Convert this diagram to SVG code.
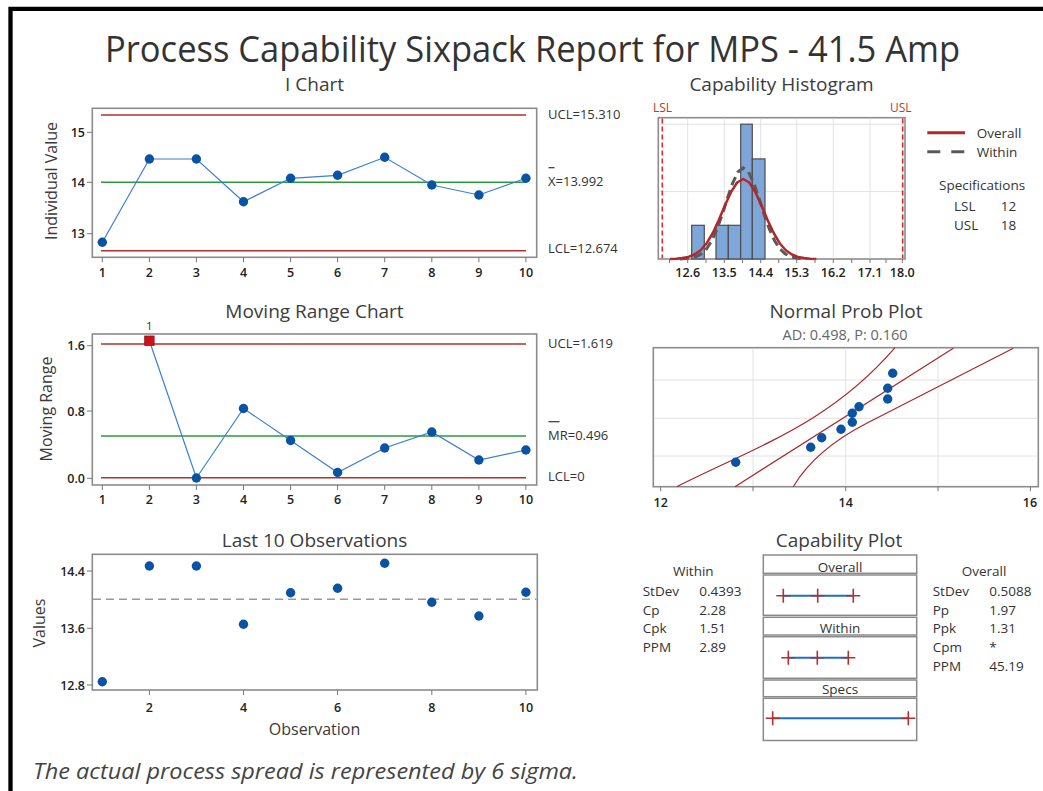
<svg xmlns="http://www.w3.org/2000/svg" xmlns:xlink="http://www.w3.org/1999/xlink" width="1043" height="791" viewBox="0 0 1043 791">
<style>
text{font-family:"Open Sans","Noto Sans","DejaVu Sans",sans-serif}
.frame{fill:#fff;stroke:#8c8c8c;stroke-width:1.6}
.lim{stroke:#b3302e;stroke-width:1.6}
.cl{stroke:#2a9a3a;stroke-width:1.6}
.dl{fill:none;stroke:#3a7fd0;stroke-width:1.2}
.pt{fill:#0a52a3}
.tk{stroke:#777;stroke-width:1}
.grid{stroke:#e2e2e2;stroke-width:1}
.ttl{font-size:19px;fill:#3c3c3c;text-anchor:middle}
.lab{font-size:13px;fill:#333}
.tick{font-size:12.5px;fill:#222;text-anchor:middle;font-weight:600}
.ytick{font-size:12.5px;fill:#222;text-anchor:end;font-weight:600}
.ax{font-size:16px;fill:#3a3a3a;text-anchor:middle}
.st{font-size:13.5px;fill:#333}
.cross{stroke:#b3302e;stroke-width:1.6;fill:none}
.blu{stroke:#1f6fc5;stroke-width:2}
.box{fill:#fff;stroke:#8a8a8a;stroke-width:1.5}
</style>
<defs>
<circle id="dot" r="4.7" class="pt"/>
<path id="cr" d="M-7,0H7M0,-7V7" class="cross"/>
</defs>
<rect width="1043" height="791" fill="#fff"/>
<path d="M10.5,791V8.8H1043" fill="none" stroke="#000" stroke-width="4.3"/>

<g id="title">
<text x="105" y="62" font-size="37" fill="#333" textLength="855" lengthAdjust="spacingAndGlyphs">Process Capability Sixpack Report for MPS - 41.5 Amp</text>
</g>

<g id="ichart">
<text class="ttl" x="314.5" y="90.7">I Chart</text>
<rect class="frame" x="92.3" y="108.3" width="444.4" height="149"/>
<line class="lim" x1="101" y1="115" x2="526" y2="115"/>
<line class="cl" x1="101" y1="182.3" x2="526" y2="182.3"/>
<line class="lim" x1="101" y1="250.7" x2="526" y2="250.7"/>
<polyline class="dl" points="102.3,242.3 149.4,159 196.4,159 243.5,201.7 290.6,178.3 337.6,175.3 384.7,157.3 431.8,185 478.9,195 525.9,178.3"/>
<use href="#dot" x="102.3" y="242.3"/><use href="#dot" x="149.4" y="159"/><use href="#dot" x="196.4" y="159"/><use href="#dot" x="243.5" y="201.7"/><use href="#dot" x="290.6" y="178.3"/><use href="#dot" x="337.6" y="175.3"/><use href="#dot" x="384.7" y="157.3"/><use href="#dot" x="431.8" y="185"/><use href="#dot" x="478.9" y="195"/><use href="#dot" x="525.9" y="178.3"/>
<path class="tk" d="M102.3,257.3v5M149.4,257.3v5M196.4,257.3v5M243.5,257.3v5M290.6,257.3v5M337.6,257.3v5M384.7,257.3v5M431.8,257.3v5M478.9,257.3v5M525.9,257.3v5M87,132.3h5.3M87,182.3h5.3M87,233.7h5.3"/>
<text class="tick" x="102.3" y="276.7">1</text><text class="tick" x="149.4" y="276.7">2</text><text class="tick" x="196.4" y="276.7">3</text><text class="tick" x="243.5" y="276.7">4</text><text class="tick" x="290.6" y="276.7">5</text><text class="tick" x="337.6" y="276.7">6</text><text class="tick" x="384.7" y="276.7">7</text><text class="tick" x="431.8" y="276.7">8</text><text class="tick" x="478.9" y="276.7">9</text><text class="tick" x="525.9" y="276.7">10</text>
<text class="ytick" x="85" y="136.8">15</text><text class="ytick" x="85" y="186.8">14</text><text class="ytick" x="85" y="238.2">13</text>
<text class="ax" transform="translate(57,181) rotate(-90)">Individual Value</text>
<text class="lab" x="548" y="119.3">UCL=15.310</text>
<line x1="548.5" y1="167.7" x2="554.5" y2="167.7" stroke="#333" stroke-width="1.2"/>
<text class="lab" x="548" y="186">X=13.992</text>
<text class="lab" x="548" y="252.7">LCL=12.674</text>
</g>

<g id="histogram">
<text class="ttl" x="781.5" y="90.7">Capability Histogram</text>
<text x="653" y="111.7" font-size="12" fill="#c0392b">LSL</text>
<text x="911.5" y="111.7" font-size="12" fill="#c0392b" text-anchor="end">USL</text>
<rect class="frame" x="658.3" y="117.7" width="246.7" height="141.3"/>
<path class="grid" d="M687.7,118.5V258.3M724.3,118.5V258.3M760.7,118.5V258.3M796.7,118.5V258.3M833.3,118.5V258.3M870,118.5V258.3M902.3,118.5V258.3M659,191.6H904.3M659,124.2H904.3"/>
<g fill="#7ea6d8" stroke="#4d4d4d" stroke-width="1.2">
<rect x="691.7" y="225.3" width="12.6" height="33.7"/>
<rect x="716" y="225.3" width="12.3" height="33.7"/>
<rect x="728.3" y="225.3" width="12.4" height="33.7"/>
<rect x="740.7" y="124.2" width="11.6" height="134.8"/>
<rect x="752.3" y="158.9" width="12.7" height="100.1"/>
</g>
<polyline fill="none" stroke="#5a5a5a" stroke-width="3" stroke-dasharray="9 5" points="680.1,258.9 685.4,258.6 690.6,258.0 695.9,256.6 701.1,253.9 706.4,249.0 711.6,241.0 716.9,229.5 722.2,214.7 727.4,198.3 732.7,183.0 737.9,172.0 743.2,168 748.5,172.0 753.7,183.0 759.0,198.3 764.2,214.7 769.5,229.5 774.8,241.0 780.0,249.0 785.3,253.9 790.5,256.6 795.8,258.0 801.1,258.6 806.3,258.9"/>
<polyline fill="none" stroke="#b3262b" stroke-width="2.5" stroke-linejoin="round" points="670.1,258.9 676.2,258.7 682.3,258.1 688.4,256.9 694.5,254.5 700.6,250.2 706.7,243.2 712.8,233.0 718.8,220.1 724.9,205.6 731.0,192.2 737.1,182.5 743.2,179 749.3,182.5 755.4,192.2 761.5,205.6 767.6,220.1 773.7,233.0 779.7,243.2 785.8,250.2 791.9,254.5 798.0,256.9 804.1,258.1 810.2,258.7 816.3,258.9"/>
<line x1="662.3" y1="118.5" x2="662.3" y2="258.3" stroke="#e0282e" stroke-width="1.6" stroke-dasharray="5 3"/>
<line x1="902.7" y1="118.5" x2="902.7" y2="258.3" stroke="#e0282e" stroke-width="1.6" stroke-dasharray="5 3"/>
<path class="tk" d="M669.5,259v4M687.7,259v4M706,259v4M724.3,259v4M742.5,259v4M760.7,259v4M778.7,259v4M796.7,259v4M815,259v4M833.3,259v4M851.7,259v4M870,259v4M886,259v4M902.3,259v4"/>
<text class="tick" x="687.7" y="277.3" font-size="12">12.6</text><text class="tick" x="724.3" y="277.3" font-size="12">13.5</text><text class="tick" x="760.7" y="277.3" font-size="12">14.4</text><text class="tick" x="796.7" y="277.3" font-size="12">15.3</text><text class="tick" x="833.3" y="277.3" font-size="12">16.2</text><text class="tick" x="870" y="277.3" font-size="12">17.1</text><text class="tick" x="902.3" y="277.3" font-size="12">18.0</text>
<line x1="927.3" y1="132.7" x2="965" y2="132.7" stroke="#b3262b" stroke-width="3"/>
<line x1="927.3" y1="151.7" x2="965" y2="151.7" stroke="#5a5a5a" stroke-width="3" stroke-dasharray="13 11"/>
<text class="st" x="976.7" y="137.7">Overall</text>
<text class="st" x="976.7" y="157.3">Within</text>
<text class="st" x="939" y="190">Specifications</text>
<text class="st" x="954" y="211">LSL</text><text class="st" x="1000.7" y="211">12</text>
<text class="st" x="954" y="229.5">USL</text><text class="st" x="1000.7" y="229.5">18</text>
</g>

<g id="mrchart">
<text class="ttl" x="314.5" y="318.3">Moving Range Chart</text>
<rect class="frame" x="92.3" y="334" width="444.4" height="151"/>
<line class="lim" x1="101" y1="344" x2="526" y2="344"/>
<line class="cl" x1="101" y1="436" x2="526" y2="436"/>
<line class="lim" x1="101" y1="477.7" x2="526" y2="477.7"/>
<polyline class="dl" points="149.4,340.7 196.4,478 243.5,408.5 290.6,440.5 337.6,472.5 384.7,448 431.8,432 478.9,460 525.9,450"/>
<rect x="144.7" y="336" width="9.4" height="9.4" fill="#d0101b" stroke="#8a1010" stroke-width="0.8"/>
<text x="149.4" y="330" font-size="11.5" fill="#333" text-anchor="middle">1</text>
<use href="#dot" x="196.4" y="478"/><use href="#dot" x="243.5" y="408.5"/><use href="#dot" x="290.6" y="440.5"/><use href="#dot" x="337.6" y="472.5"/><use href="#dot" x="384.7" y="448"/><use href="#dot" x="431.8" y="432"/><use href="#dot" x="478.9" y="460"/><use href="#dot" x="525.9" y="450"/>
<path class="tk" d="M102.3,485v5M149.4,485v5M196.4,485v5M243.5,485v5M290.6,485v5M337.6,485v5M384.7,485v5M431.8,485v5M478.9,485v5M525.9,485v5M87,345.7h5.3M87,411h5.3M87,478.3h5.3"/>
<text class="tick" x="102.3" y="504">1</text><text class="tick" x="149.4" y="504">2</text><text class="tick" x="196.4" y="504">3</text><text class="tick" x="243.5" y="504">4</text><text class="tick" x="290.6" y="504">5</text><text class="tick" x="337.6" y="504">6</text><text class="tick" x="384.7" y="504">7</text><text class="tick" x="431.8" y="504">8</text><text class="tick" x="478.9" y="504">9</text><text class="tick" x="525.9" y="504">10</text>
<text class="ytick" x="85" y="350.2">1.6</text><text class="ytick" x="85" y="415.5">0.8</text><text class="ytick" x="85" y="482.8">0.0</text>
<text class="ax" transform="translate(52.3,409) rotate(-90)">Moving Range</text>
<text class="lab" x="548" y="347.7">UCL=1.619</text>
<line x1="548.5" y1="421.7" x2="559.5" y2="421.7" stroke="#333" stroke-width="1.2"/>
<text class="lab" x="548" y="440">MR=0.496</text>
<text class="lab" x="548" y="480.7">LCL=0</text>
</g>

<g id="probplot">
<text class="ttl" x="846" y="318.3">Normal Prob Plot</text>
<text x="845" y="339.5" font-size="14.5" fill="#666" text-anchor="middle">AD: 0.498, P: 0.160</text>
<rect class="frame" x="653.3" y="347.7" width="385" height="139"/>
<path class="grid" d="M753,348.5V486M845.7,348.5V486M938,348.5V486M654,380H1037.5M654,418.3H1037.5M654,456H1037.5"/>
<g fill="none" stroke="#a8262b" stroke-width="1.2">
<line x1="735" y1="486.7" x2="953.3" y2="348.3"/>
<path d="M676.7,486.7C760,445 830,423 895,347.7"/>
<path d="M793.3,486.7Q815,450 866.7,423.3T1013.3,348.3"/>
</g>
<use href="#dot" x="735.7" y="462.3"/><use href="#dot" x="810.7" y="447.3"/><use href="#dot" x="821.7" y="437.7"/><use href="#dot" x="841" y="429.3"/><use href="#dot" x="852.3" y="422.3"/><use href="#dot" x="852.3" y="413.3"/><use href="#dot" x="859" y="406.7"/><use href="#dot" x="887.7" y="399"/><use href="#dot" x="887.7" y="388.3"/><use href="#dot" x="892.7" y="373.3"/>
<path class="tk" d="M660.7,486.7v4.5M753,486.7v4.5M845.7,486.7v4.5M938,486.7v4.5M1030.4,486.7v4.5"/>
<text class="tick" x="660.7" y="506.7">12</text><text class="tick" x="845.7" y="506.7">14</text><text class="tick" x="1030" y="506.7">16</text>
</g>

<g id="last10">
<text class="ttl" x="314.5" y="546.7">Last 10 Observations</text>
<rect class="frame" x="92.3" y="554.3" width="445" height="135.7"/>
<line x1="93" y1="599.3" x2="536.5" y2="599.3" stroke="#9a9a9a" stroke-width="1.4" stroke-dasharray="8 5"/>
<use href="#dot" x="102.3" y="681.7"/><use href="#dot" x="149.4" y="566"/><use href="#dot" x="196.4" y="566"/><use href="#dot" x="243.5" y="624.3"/><use href="#dot" x="290.6" y="592.7"/><use href="#dot" x="337.6" y="588.3"/><use href="#dot" x="384.7" y="563.3"/><use href="#dot" x="431.8" y="602.3"/><use href="#dot" x="478.9" y="616"/><use href="#dot" x="525.9" y="592.3"/>
<path class="tk" d="M149.4,690v5M243.5,690v5M337.6,690v5M431.8,690v5M525.9,690v5M87,571h5.3M87,628.3h5.3M87,685h5.3"/>
<text class="tick" x="149.4" y="711.7">2</text><text class="tick" x="243.5" y="711.7">4</text><text class="tick" x="337.6" y="711.7">6</text><text class="tick" x="431.8" y="711.7">8</text><text class="tick" x="525.9" y="711.7">10</text>
<text class="ytick" x="85" y="575.5">14.4</text><text class="ytick" x="85" y="632.8">13.6</text><text class="ytick" x="85" y="689.5">12.8</text>
<text class="ax" transform="translate(45,623) rotate(-90)">Values</text>
<text class="ax" x="314.5" y="735" font-size="15.5">Observation</text>
</g>

<g id="capplot">
<text class="ttl" x="839" y="546.7">Capability Plot</text>
<rect class="box" x="763.3" y="555" width="153.4" height="18.3"/>
<rect class="box" x="763.3" y="575" width="153.4" height="40.3"/>
<rect class="box" x="763.3" y="617.3" width="153.4" height="17.7"/>
<rect class="box" x="763.3" y="636.7" width="153.4" height="41.6"/>
<rect class="box" x="763.3" y="680" width="153.4" height="16.7"/>
<rect class="box" x="763.3" y="698.3" width="153.4" height="42.2"/>
<text class="st" x="840" y="571.5" text-anchor="middle">Overall</text>
<text class="st" x="840" y="633.3" text-anchor="middle">Within</text>
<text class="st" x="840" y="694" text-anchor="middle">Specs</text>
<line class="blu" x1="783.3" y1="595.7" x2="853.3" y2="595.7"/>
<use href="#cr" x="783.3" y="595.7"/><use href="#cr" x="817.7" y="595.7"/><use href="#cr" x="853.3" y="595.7"/>
<line class="blu" x1="788.3" y1="657.7" x2="848.3" y2="657.7"/>
<use href="#cr" x="788.3" y="657.7"/><use href="#cr" x="817.3" y="657.7"/><use href="#cr" x="848.3" y="657.7"/>
<line class="blu" x1="772.7" y1="718.3" x2="908.3" y2="718.3"/>
<use href="#cr" x="772.7" y="718.3"/><use href="#cr" x="908.3" y="718.3"/>
<text class="st" x="693.3" y="575.7" text-anchor="middle">Within</text>
<text class="st" x="642.7" y="596">StDev</text><text class="st" x="699.3" y="596">0.4393</text>
<text class="st" x="642.7" y="614.7">Cp</text><text class="st" x="699.3" y="614.7">2.28</text>
<text class="st" x="642.7" y="633.3">Cpk</text><text class="st" x="699.3" y="633.3">1.51</text>
<text class="st" x="642.7" y="652">PPM</text><text class="st" x="699.3" y="652">2.89</text>
<text class="st" x="984" y="575.7" text-anchor="middle">Overall</text>
<text class="st" x="932.7" y="596">StDev</text><text class="st" x="989.3" y="596">0.5088</text>
<text class="st" x="932.7" y="614.7">Pp</text><text class="st" x="989.3" y="614.7">1.97</text>
<text class="st" x="932.7" y="633.3">Ppk</text><text class="st" x="989.3" y="633.3">1.31</text>
<text class="st" x="932.7" y="652">Cpm</text><text class="st" x="989.3" y="652">*</text>
<text class="st" x="932.7" y="670.7">PPM</text><text class="st" x="989.3" y="670.7">45.19</text>
</g>

<g id="footnote">
<text x="33" y="779" font-size="22" font-style="italic" fill="#444" textLength="545" lengthAdjust="spacingAndGlyphs">The actual process spread is represented by 6 sigma.</text>
</g>
</svg>
